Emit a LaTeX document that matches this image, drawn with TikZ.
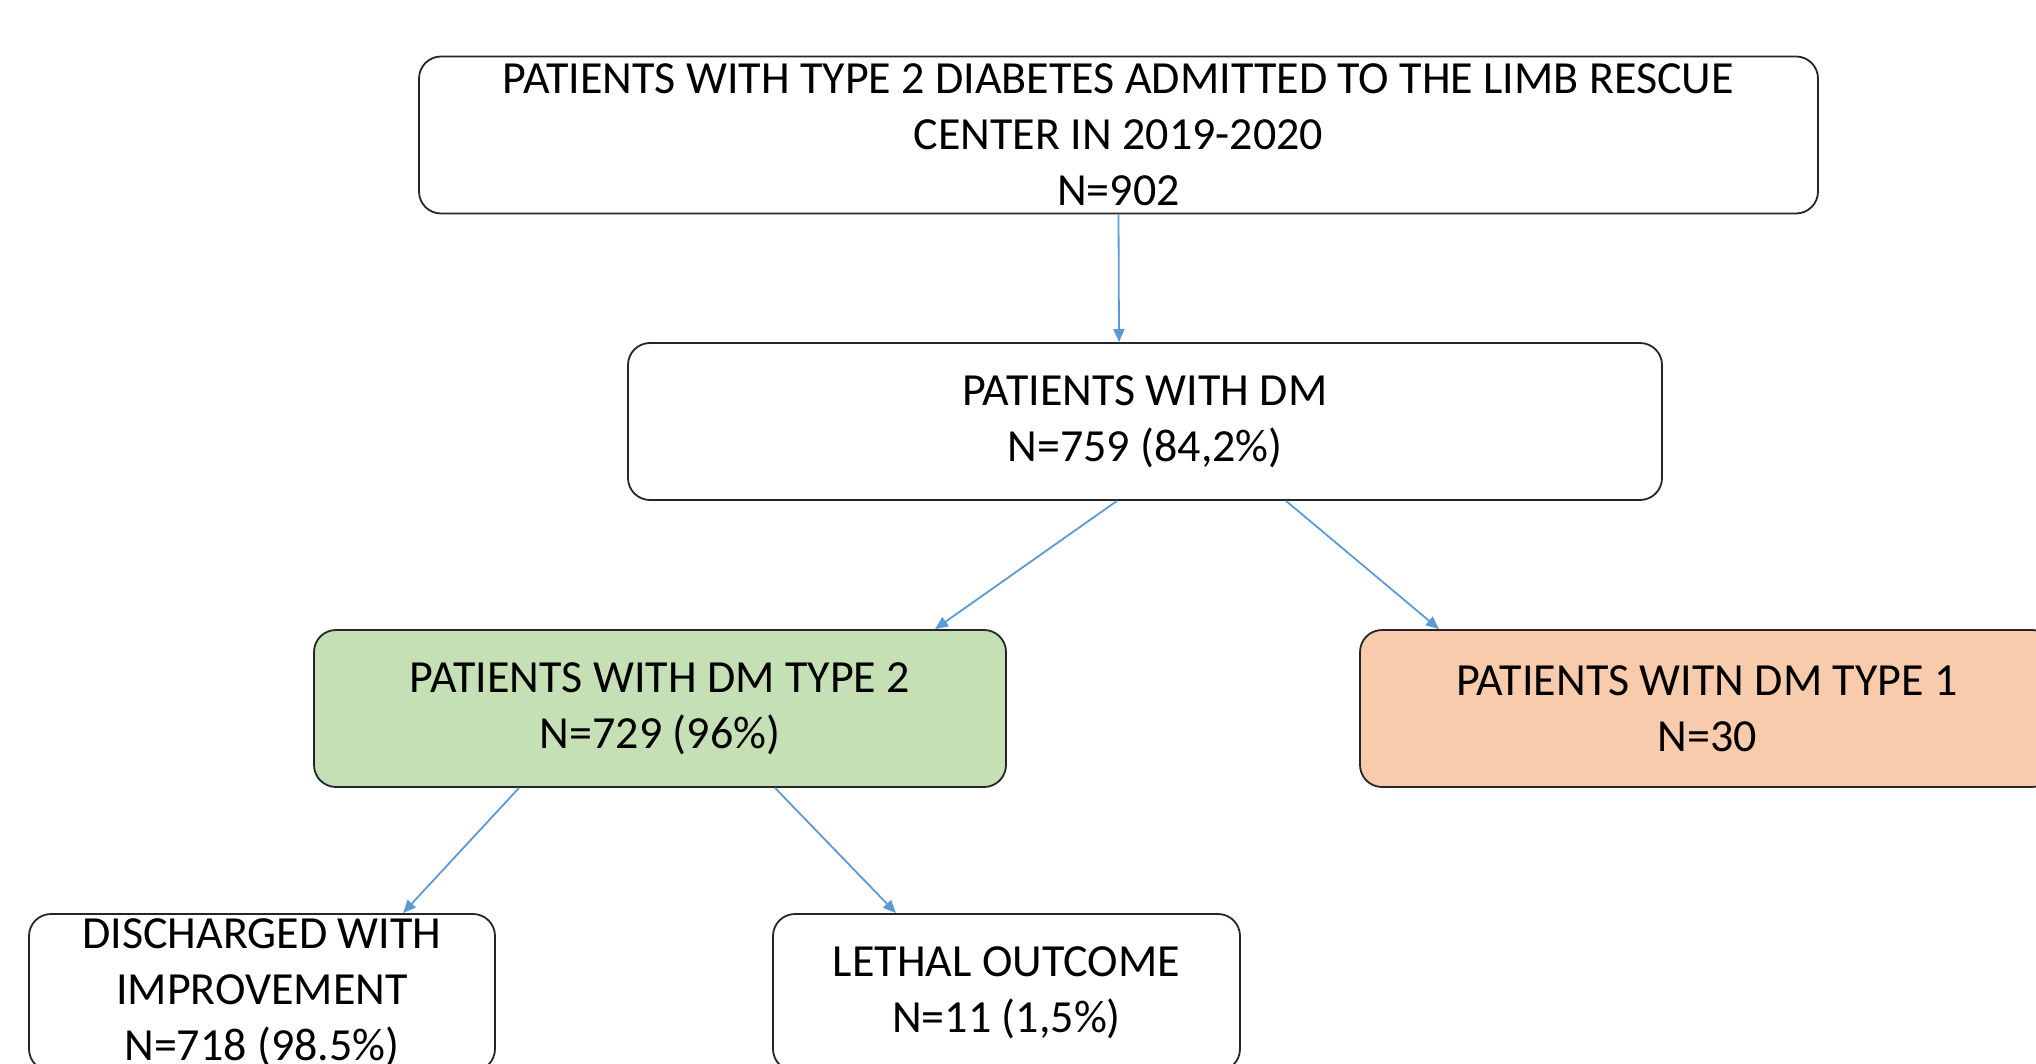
\documentclass[tikz,border=0pt]{standalone}
\usepackage{fontspec}
\setmainfont{Carlito}
\usetikzlibrary{arrows.meta,calc}
\definecolor{arrowblue}{RGB}{91,155,213}
\definecolor{greenfill}{RGB}{197,224,180}
\definecolor{orangefill}{RGB}{248,203,173}
\tikzset{
  box/.style={draw=black!85, line width=1.8pt, rounded corners=22pt, fill=white,
    inner sep=0pt, align=center, minimum height=157pt,
    font=\fontsize{46}{56}\selectfont},
  conn/.style={draw=arrowblue, line width=1.8pt, -{Triangle[length=13pt,width=11pt]}}
}
\begin{document}
\begin{tikzpicture}[x=1pt,y=-1pt]
\useasboundingbox (0,0) rectangle (2036,1064);
\clip (0,0) rectangle (2036,1064);
\node[box, minimum width=1399pt] (top) at (1118.5,135) {PATIENTS WITH TYPE 2 DIABETES ADMITTED TO THE LIMB RESCUE\\CENTER IN 2019-2020\\N=902};
\node[box, minimum width=1034pt] (dm) at (1145,421.5) {PATIENTS WITH DM\\N=759 (84,2\%)};
\node[box, minimum width=692pt, fill=greenfill] (t2) at (660,708.5) {PATIENTS WITH DM TYPE 2\\N=729 (96\%)};
\node[box, minimum width=694pt, fill=orangefill] (t1) at (1707,708.5) {PATIENTS WITN DM TYPE 1\\N=30};
\node[box, minimum width=466pt] (dis) at (262,992.5) {DISCHARGED WITH\\IMPROVEMENT\\N=718 (98.5\%)};
\node[box, minimum width=467pt] (let) at (1006.5,992.5) {LETHAL OUTCOME\\N=11 (1,5\%)};
\draw[conn] (top.south) -- ([xshift=-26pt]dm.north);
\draw[conn] ([xshift=-28pt]dm.south) -- ([xshift=275pt]t2.north);
\draw[conn] ([xshift=141pt]dm.south) -- ([xshift=-268pt]t1.north);
\draw[conn] ([xshift=-141pt]t2.south) -- ([xshift=141pt]dis.north);
\draw[conn] ([xshift=115pt]t2.south) -- ([xshift=-110.5pt]let.north);
\end{tikzpicture}
\end{document}
